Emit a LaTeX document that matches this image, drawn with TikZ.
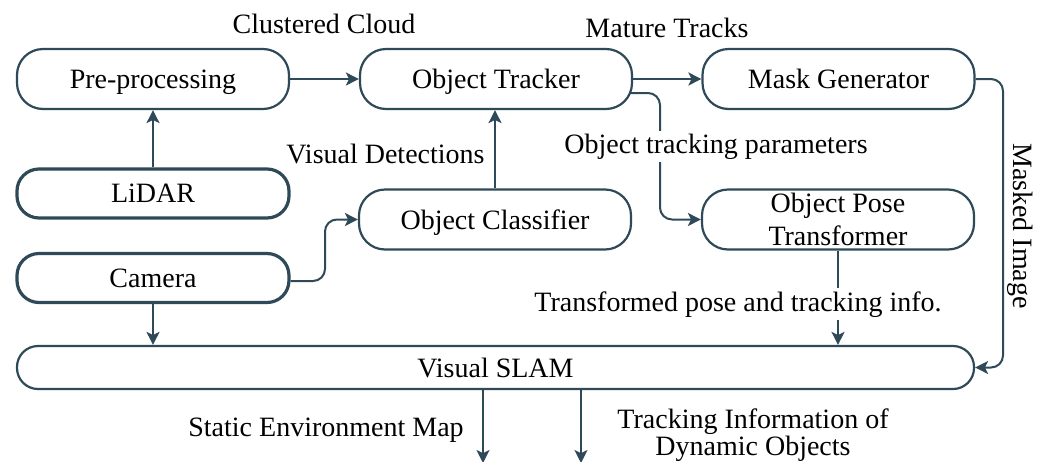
\documentclass[tikz,border=0pt]{standalone}
\usepackage{fontspec}
\setmainfont{Liberation Serif}
\usetikzlibrary{arrows.meta,calc}
\definecolor{ink}{RGB}{46,73,87}
\begin{document}
\begin{tikzpicture}[x=0.5pt,y=-0.5pt,
  font=\fontsize{14}{12.5}\selectfont,
  box/.style={draw=ink, fill=white, line width=1.1pt, rounded corners=13pt,
    minimum width=136pt, minimum height=30pt, inner sep=0pt, align=center,
    text depth=0pt},
  sensor/.style={box, line width=1.6pt, rounded corners=11pt, minimum height=24.5pt},
  slambox/.style={box, rounded corners=10.5pt, minimum width=478.5pt, minimum height=21.5pt},
  arr/.style={draw=ink, line width=1pt,
    -{Stealth[length=6.5pt,width=6.5pt,inset=1.6pt]}},
  lbl/.style={inner sep=1pt, anchor=base},
  gap/.style={lbl, fill=white, inner sep=1.5pt}]
\useasboundingbox (0,0) rectangle (1047,461);

% processing blocks
\node[box] (pre) at (153,79) {Pre-processing};
\node[box] (trk) at (496,79) {Object Tracker};
\node[box] (msk) at (838.5,79) {Mask Generator};
\node[sensor] (lid) at (153,193.5) {LiDAR};
\node[sensor] (cam) at (153,278) {Camera};
\node[box] (cls) at (495,219.5) {Object Classifier};
\node[box] (pose) at (838,219.5) {Object Pose\\[2.5pt]Transformer};
\node[slambox] (slam) at (495.5,367.5) {Visual SLAM};

% helper coordinates for bends and free ends
\coordinate (tstart) at ($(trk.east)+(-2,14)$);
\coordinate (tbend) at (660,0);
\coordinate (cbend) at (325,0);
\coordinate (mbend) at (1003,0);
\coordinate (mapout) at (483,463);
\coordinate (dynout) at (581,463);

% connectors
\draw[arr] (lid) -- (pre);
\draw[arr] (pre) -- (trk);
\draw[arr] (trk) -- (msk);
\draw[arr] (cls.north) -- (cls.north |- trk.south);
\draw[arr, rounded corners=6pt] ($(cam.east)+(0,3)$) -| (cbend |- cls.west) -- (cls.west);
\draw[arr, rounded corners=6pt] (tstart) -| (tbend |- pose.west) -- (pose.west);
\draw[arr, rounded corners=6pt] (msk.east) -| (mbend |- slam.east) -- (slam.east);
\draw[arr] (cam.south) -- (cam.south |- slam.north);
\draw[arr] (pose.south) -- (pose.south |- slam.north);
\draw[arr] (mapout |- slam.south) -- (mapout);
\draw[arr] (dynout |- slam.south) -- (dynout);

% connector labels
\node[lbl] (lcc) at (324,33) {Clustered Cloud};
\node[lbl] (lmt) at (667,37) {Mature Tracks};
\node[lbl, anchor=base east] (lvd) at (487,163) {Visual Detections};
\node[gap] (ltp) at (716,153) {Object tracking parameters};
\node[gap] (lpi) at (738,311) {Transformed pose and tracking info.};
\node[rotate=-90, inner sep=1pt] (lmi) at (1020,226) {Masked Image};
\node[lbl] (lsm) at (326,436) {Static Environment Map};
\node[align=center, inner sep=1pt] (ldo) at (753,435) {Tracking Information of\\Dynamic Objects};
\end{tikzpicture}
\end{document}
